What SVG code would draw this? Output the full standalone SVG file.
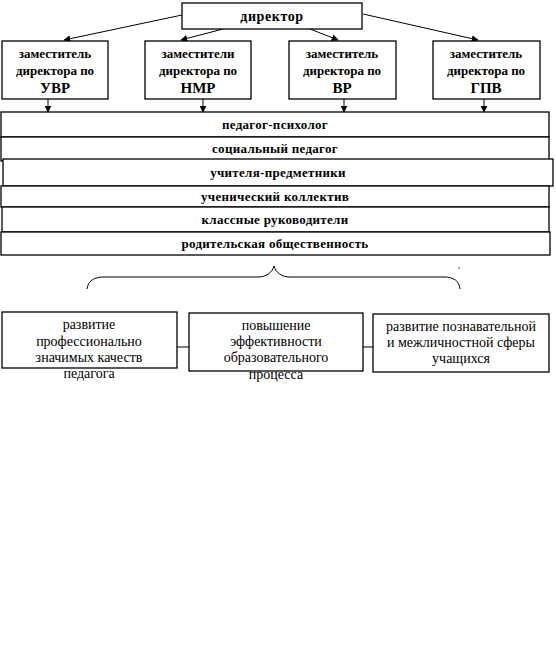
<svg xmlns="http://www.w3.org/2000/svg" width="556" height="660" viewBox="0 0 556 660">
<style>
.box{fill:#fff;stroke:#000;stroke-width:1.3}
.b{font-family:"Liberation Serif","Times New Roman",serif;font-weight:bold;font-size:13px;text-anchor:middle;fill:#000}
.bar{letter-spacing:0.3px}
.big{font-size:15px}
.r{font-family:"Liberation Serif","Times New Roman",serif;font-size:14px;text-anchor:middle;fill:#000}
.ln{stroke:#000;stroke-width:1;fill:none}
</style>
<defs>
<marker id="ar" viewBox="0 0 10 10" refX="9" refY="5" markerWidth="7" markerHeight="7" orient="auto-start-reverse" markerUnits="userSpaceOnUse">
<path d="M0,0 L10,5 L0,10 Z" fill="#000"/>
</marker>
</defs>
<rect width="556" height="660" fill="#fff"/>
<g id="connectors">
<line class="ln" x1="182" y1="15" x2="64" y2="40" marker-end="url(#ar)"/>
<line class="ln" x1="223" y1="29" x2="181" y2="40" marker-end="url(#ar)"/>
<line class="ln" x1="310" y1="29" x2="338" y2="40" marker-end="url(#ar)"/>
<line class="ln" x1="363" y1="14" x2="478" y2="40" marker-end="url(#ar)"/>
<line class="ln" x1="48" y1="99" x2="48" y2="112" marker-end="url(#ar)"/>
<line class="ln" x1="203" y1="99" x2="203" y2="112" marker-end="url(#ar)"/>
<line class="ln" x1="344" y1="99" x2="344" y2="112" marker-end="url(#ar)"/>
<line class="ln" x1="484" y1="99" x2="484" y2="112" marker-end="url(#ar)"/>
<line class="ln" x1="177" y1="347" x2="189" y2="347"/>
<line class="ln" x1="363" y1="347" x2="373" y2="347"/>
<path class="ln" d="M87,289 C88,281 94,277 104,277 L258,277 C266,277 272,273 274,266 C276,273 282,277 290,277 L444,277 C454,277 459,281 460,289"/>
<circle cx="459" cy="268" r="0.7" fill="#000"/>
</g>
<g id="director">
<rect class="box" x="182" y="3" width="180" height="26"/>
<text class="b" x="272" y="21" style="font-size:14px;letter-spacing:0.6px">директор</text>
</g>
<g id="dep-uvr">
<rect class="box" x="2" y="41" width="106" height="58"/>
<text class="b" x="55" y="58">заместитель</text>
<text class="b" x="55" y="75">директора по</text>
<text class="b big" x="55" y="93">УВР</text>
</g>
<g id="dep-nmr">
<rect class="box" x="145" y="41" width="106" height="58"/>
<text class="b" x="198" y="58">заместители</text>
<text class="b" x="198" y="75">директора по</text>
<text class="b big" x="198" y="93">НМР</text>
</g>
<g id="dep-vr">
<rect class="box" x="289" y="41" width="107" height="58"/>
<text class="b" x="342" y="58">заместитель</text>
<text class="b" x="342" y="75">директора по</text>
<text class="b big" x="342" y="93">ВР</text>
</g>
<g id="dep-gpv">
<rect class="box" x="433" y="41" width="107" height="58"/>
<text class="b" x="486" y="58">заместитель</text>
<text class="b" x="486" y="75">директора по</text>
<text class="b big" x="486" y="93">ГПВ</text>
</g>
<g id="bar-psych">
<rect class="box" x="1" y="112" width="548" height="25"/>
<text class="b bar" x="275" y="129">педагог-психолог</text>
</g>
<g id="bar-social">
<rect class="box" x="1" y="137" width="548" height="24"/>
<text class="b bar" x="275" y="153">социальный педагог</text>
</g>
<g id="bar-teachers">
<rect class="box" x="3" y="159" width="550" height="27"/>
<text class="b bar" x="278" y="177">учителя-предметники</text>
</g>
<g id="bar-students">
<rect class="box" x="1" y="186" width="548" height="21"/>
<text class="b bar" x="275" y="201">ученический коллектив</text>
</g>
<g id="bar-class">
<rect class="box" x="2" y="207" width="547" height="25"/>
<text class="b bar" x="275" y="224">классные руководители</text>
</g>
<g id="bar-parents">
<rect class="box" x="1" y="232" width="549" height="23"/>
<text class="b bar" x="275" y="248">родительская общественность</text>
</g>
<g id="goal-teacher">
<rect class="box" x="2" y="312" width="175" height="56"/>
<text class="r" x="89" y="329">развитие</text>
<text class="r" x="89" y="346">профессионально</text>
<text class="r" x="89" y="362">значимых качеств</text>
<text class="r" x="89" y="378">педагога</text>
</g>
<g id="goal-process">
<rect class="box" x="189" y="313" width="174" height="58"/>
<text class="r" x="276" y="330">повышение</text>
<text class="r" x="276" y="346">эффективности</text>
<text class="r" x="276" y="362">образовательного</text>
<text class="r" x="276" y="379">процесса</text>
</g>
<g id="goal-students">
<rect class="box" x="373" y="314" width="176" height="58"/>
<text class="r" x="461" y="331">развитие познавательной</text>
<text class="r" x="461" y="347">и межличностной сферы</text>
<text class="r" x="461" y="363">учащихся</text>
</g>
</svg>
